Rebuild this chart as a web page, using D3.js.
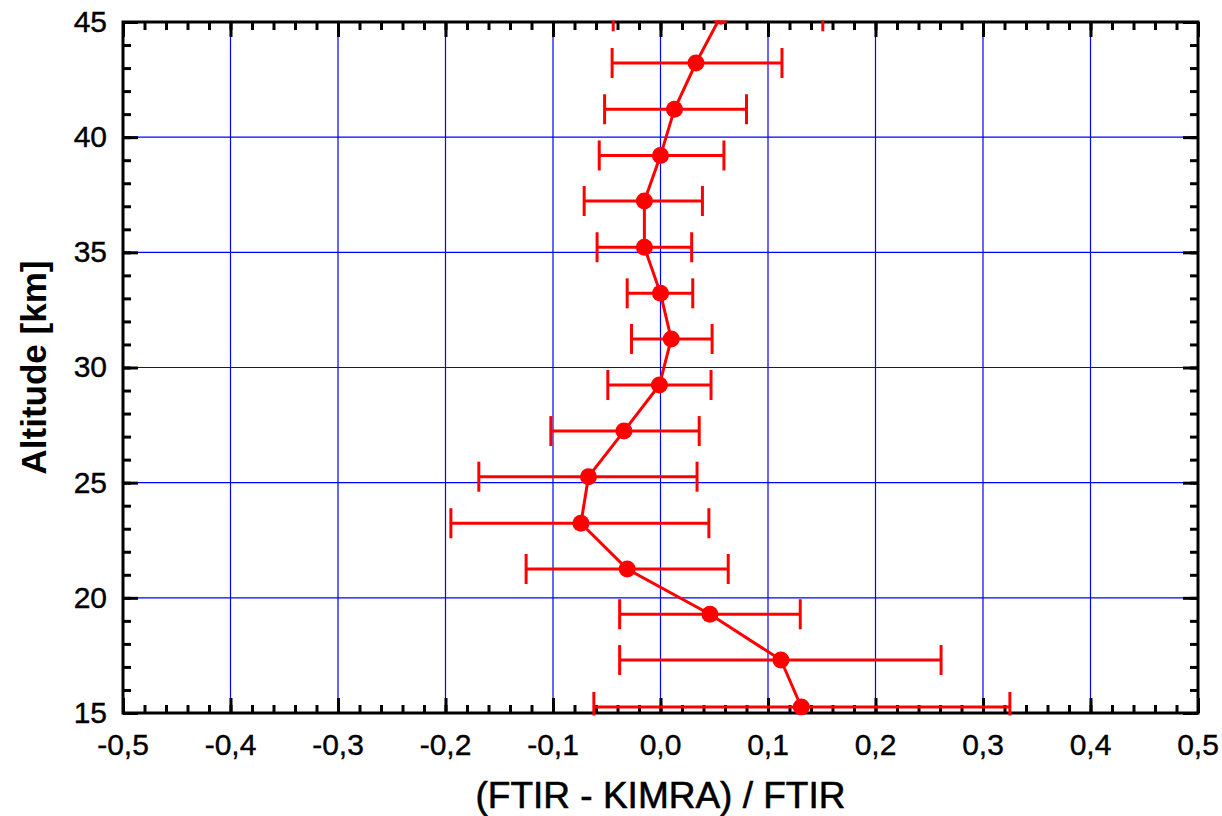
<!DOCTYPE html>
<html>
<head>
<meta charset="utf-8">
<script src="https://cdn.jsdelivr.net/npm/d3@7"></script>
<style>
  body { margin: 0; background: #fff; }
  svg { display: block; }
</style>
</head>
<body>
<div id="chart-container"></div>
<script>
// altitude [km] and relative difference (FTIR - KIMRA) / FTIR
const altitude = [15.26, 17.30, 19.29, 21.25, 23.24, 25.26, 27.24, 29.24, 31.24, 33.22, 35.22, 37.23, 39.20, 41.21, 43.22, 45.25];
const ratio    = [0.131, 0.112, 0.046, -0.031, -0.074, -0.067, -0.034, -0.001, 0.010, 0.000, -0.015, -0.015, 0.000, 0.013, 0.033, 0.056];
const errLow   = [-0.062, -0.038, -0.038, -0.125, -0.195, -0.169, -0.102, -0.049, -0.027, -0.031, -0.059, -0.071, -0.057, -0.052, -0.045, -0.044];
const errHigh  = [0.325, 0.261, 0.130, 0.063, 0.045, 0.034, 0.036, 0.047, 0.048, 0.030, 0.029, 0.039, 0.059, 0.080, 0.113, 0.151];

const xTicks = [-0.5, -0.4, -0.3, -0.2, -0.1, 0.0, 0.1, 0.2, 0.3, 0.4, 0.5];
const yTicks = [15, 20, 25, 30, 35, 40, 45];
const xMinor = d3.range(-0.5, 0.5001, 0.02);
const yMinor = d3.range(15, 45.001, 1);

const width = 1222;
const height = 816;
const margin = { top: 22, right: 24, bottom: 103, left: 123 };
const chartWidth = width - margin.left - margin.right;
const chartHeight = height - margin.top - margin.bottom;

const svg = d3.select("#chart-container")
  .append("svg")
  .attr("width", width)
  .attr("height", height)
  .style("background-color", "#fff");

const chart = svg.append("g")
  .attr("transform", `translate(${margin.left},${margin.top})`);

const xScale = d3.scaleLinear().domain([-0.5, 0.5]).range([0, chartWidth]);
const yScale = d3.scaleLinear().domain([15, 45]).range([chartHeight, 0]);

const fmt = d => d3.format(".1f")(d).replace(".", ",").replace("−", "-");

// grid
chart.append("g")
  .selectAll("line")
  .data(xTicks.slice(1, -1))
  .enter()
  .append("line")
  .attr("x1", d => xScale(d)).attr("x2", d => xScale(d))
  .attr("y1", 0).attr("y2", chartHeight)
  .attr("stroke", "#0000ff").attr("stroke-width", 1.2);

chart.append("g")
  .selectAll("line")
  .data(yTicks.slice(1, -1))
  .enter()
  .append("line")
  .attr("y1", d => yScale(d)).attr("y2", d => yScale(d))
  .attr("x1", 0).attr("x2", chartWidth)
  .attr("stroke", "#0000ff").attr("stroke-width", 1.2);

// axes, ticks pointing inward on all four sides
const majorLen = 15, minorLen = 8;

function styleAxis(g) {
  g.select(".domain").remove();
  g.selectAll(".tick line").attr("stroke", "#000").attr("stroke-width", 3);
}

chart.append("g")
  .attr("transform", `translate(0,${chartHeight})`)
  .call(d3.axisTop(xScale).tickValues(xMinor).tickSize(minorLen).tickFormat(""))
  .call(styleAxis);
chart.append("g")
  .attr("transform", `translate(0,${chartHeight})`)
  .call(d3.axisTop(xScale).tickValues(xTicks).tickSize(majorLen).tickFormat(""))
  .call(styleAxis);
chart.append("g")
  .call(d3.axisBottom(xScale).tickValues(xMinor).tickSize(minorLen).tickFormat(""))
  .call(styleAxis);
chart.append("g")
  .call(d3.axisBottom(xScale).tickValues(xTicks).tickSize(majorLen).tickFormat(""))
  .call(styleAxis);
chart.append("g")
  .call(d3.axisRight(yScale).tickValues(yMinor).tickSize(minorLen).tickFormat(""))
  .call(styleAxis);
chart.append("g")
  .call(d3.axisRight(yScale).tickValues(yTicks).tickSize(majorLen).tickFormat(""))
  .call(styleAxis);
chart.append("g")
  .attr("transform", `translate(${chartWidth},0)`)
  .call(d3.axisLeft(yScale).tickValues(yMinor).tickSize(minorLen).tickFormat(""))
  .call(styleAxis);
chart.append("g")
  .attr("transform", `translate(${chartWidth},0)`)
  .call(d3.axisLeft(yScale).tickValues(yTicks).tickSize(majorLen).tickFormat(""))
  .call(styleAxis);

chart.append("rect")
  .attr("x", 0).attr("y", 0)
  .attr("width", chartWidth).attr("height", chartHeight)
  .attr("fill", "none").attr("stroke", "#000").attr("stroke-width", 3);

// tick labels
chart.append("g")
  .selectAll("text")
  .data(xTicks)
  .enter()
  .append("text")
  .attr("x", d => xScale(d))
  .attr("y", chartHeight + 42)
  .attr("text-anchor", "middle")
  .attr("font-family", "Liberation Sans, Arial, sans-serif")
  .attr("font-size", "30px")
  .attr("stroke", "#000")
  .attr("stroke-width", 0.4)
  .text(fmt);

chart.append("g")
  .selectAll("text")
  .data(yTicks)
  .enter()
  .append("text")
  .attr("x", -16)
  .attr("y", d => yScale(d))
  .attr("dy", "0.33em")
  .attr("text-anchor", "end")
  .attr("font-family", "Liberation Sans, Arial, sans-serif")
  .attr("font-size", "30px")
  .attr("stroke", "#000")
  .attr("stroke-width", 0.4)
  .text(d => d);

// axis titles
svg.append("text")
  .attr("x", margin.left + xScale(0))
  .attr("y", 808)
  .attr("text-anchor", "middle")
  .attr("font-family", "Liberation Sans, Arial, sans-serif")
  .attr("font-size", "37px")
  .attr("stroke", "#000")
  .attr("stroke-width", 0.6)
  .text("(FTIR - KIMRA) / FTIR");

svg.append("text")
  .attr("transform", `translate(46,${margin.top + yScale(30)}) rotate(-90)`)
  .attr("text-anchor", "middle")
  .attr("font-family", "Liberation Sans, Arial, sans-serif")
  .attr("font-size", "35px")
  .attr("font-weight", "bold")
  .text("Altitude [km]");

// data, clipped to the frame
svg.append("clipPath")
  .attr("id", "plot-clip")
  .append("rect")
  .attr("x", -2).attr("y", -1.5)
  .attr("width", chartWidth + 4).attr("height", chartHeight + 4);

const plot = chart.append("g").attr("clip-path", "url(#plot-clip)");
const red = "#ff0000";
const capHalf = 15;

const pts = altitude.map((a, i) => ({ a: a, v: ratio[i], lo: errLow[i], hi: errHigh[i] }));

plot.selectAll(".err")
  .data(pts)
  .enter()
  .append("line")
  .attr("class", "err")
  .attr("x1", d => xScale(d.lo)).attr("x2", d => xScale(d.hi))
  .attr("y1", d => yScale(d.a)).attr("y2", d => yScale(d.a))
  .attr("stroke", red).attr("stroke-width", 3);

plot.selectAll(".cap-lo")
  .data(pts)
  .enter()
  .append("line")
  .attr("class", "cap-lo")
  .attr("x1", d => xScale(d.lo)).attr("x2", d => xScale(d.lo))
  .attr("y1", d => yScale(d.a) - capHalf).attr("y2", d => yScale(d.a) + capHalf)
  .attr("stroke", red).attr("stroke-width", 3);

plot.selectAll(".cap-hi")
  .data(pts)
  .enter()
  .append("line")
  .attr("class", "cap-hi")
  .attr("x1", d => xScale(d.hi)).attr("x2", d => xScale(d.hi))
  .attr("y1", d => yScale(d.a) - capHalf).attr("y2", d => yScale(d.a) + capHalf)
  .attr("stroke", red).attr("stroke-width", 3);

const line = d3.line()
  .x(d => xScale(d.v))
  .y(d => yScale(d.a));

plot.append("path")
  .datum(pts)
  .attr("d", line)
  .attr("fill", "none")
  .attr("stroke", red)
  .attr("stroke-width", 3);

plot.selectAll(".dot")
  .data(pts)
  .enter()
  .append("circle")
  .attr("class", "dot")
  .attr("cx", d => xScale(d.v))
  .attr("cy", d => yScale(d.a))
  .attr("r", 8.5)
  .attr("fill", red);
</script>
</body>
</html>
